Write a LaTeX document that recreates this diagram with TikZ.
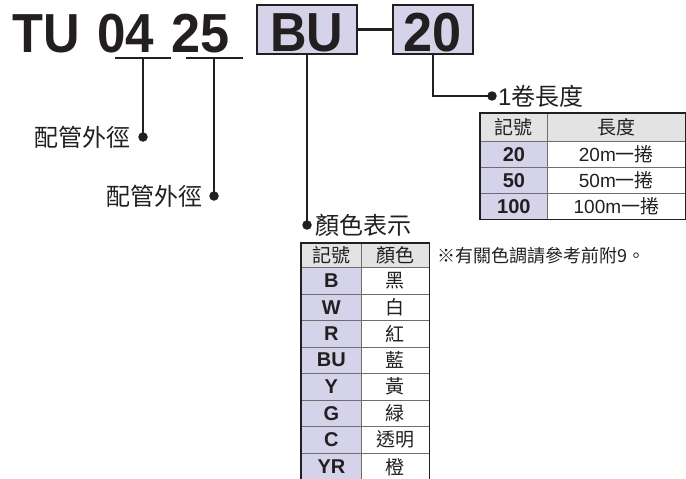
\documentclass[tikz,border=0pt]{standalone}
\usepackage{fontspec}
\usepackage{graphicx}
\setmainfont{Liberation Sans}
\newfontfamily\cjk{Noto Sans CJK TC}
\definecolor{lav}{HTML}{D5D3EA}
\definecolor{hdr}{HTML}{E3E3E3}
\definecolor{ink}{HTML}{231F20}
\definecolor{grid}{HTML}{6E6E6E}
\begin{document}
\begin{tikzpicture}[x=1pt,y=-1pt,
  big/.style={font=\fontsize{55}{55}\selectfont\bfseries, text=ink, inner sep=0},
  codebox/.style={draw=ink, line width=2pt, fill=lav, minimum height=49pt, inner sep=0},
  conn/.style={draw=ink, line width=1.6pt},
  dot/.style={circle, fill=ink, inner sep=0, minimum size=9.5pt},
  lbl/.style={font=\cjk\fontsize{24}{24}\selectfont, text=ink, inner sep=0},
  cell/.style={draw=grid, line width=0.8pt, inner sep=0, anchor=north west, text=ink, font=\fontsize{19}{19}\selectfont},
  hcell/.style={cell, fill=hdr, font=\cjk\fontsize{19}{19}\selectfont},
  kcell/.style={cell, fill=lav, font=\fontsize{20}{20}\selectfont\bfseries},
  vcell/.style={cell, fill=white},
  ccell/.style={cell, fill=white, font=\cjk\fontsize{19}{19}\selectfont},
  frame/.style={draw=ink, line width=1.3pt}
]
\useasboundingbox (0,0) rectangle (686,479);
\clip (0,0) rectangle (686,479);
% title
\node[big, anchor=base west] (tu) at (12,52) {\scalebox{0.92}[1]{TU}};
\node[big, anchor=base west] (n04) at (97,52) {\scalebox{0.93}[1]{04}};
\node[big, anchor=base west] (n25) at (171,52) {\scalebox{0.95}[1]{25}};
\node[codebox, minimum width=100pt] (bu) at (307,29.5) {};
\node[big, anchor=base] (bulbl) at (307,51) {\scalebox{0.92}[1]{BU}};
\node[codebox, minimum width=80pt] (n20) at (433,29.5) {};
\node[big, anchor=base] (n20lbl) at (433,51) {\scalebox{0.95}[1]{20}};
\draw[conn, line width=2.6pt] (bu.east) -- (n20.west);
% underlines
\coordinate (u04a) at (115,58); \coordinate (u04b) at (171,58);
\coordinate (u25a) at (186,58); \coordinate (u25b) at (243,58);
\draw[conn] (u04a) -- (u04b);
\draw[conn] (u25a) -- (u25b);
% leaders
\node[dot] (d04) at (143,137) {};
\node[dot] (d25) at (214,196) {};
\node[dot] (dbu) at (307,225) {};
\node[dot] (d20) at (492,96) {};
\draw[conn] (d04.center) -- (d04.center |- u04a);
\draw[conn] (d25.center) -- (d25.center |- u25a);
\draw[conn] (bu.south) -- (dbu.center);
\draw[conn] (n20.south) |- (d20.center);
\node[lbl, anchor=east] (l04) at (131,137) {配管外徑};
\node[lbl, anchor=east] (l25) at (203,196) {配管外徑};
\node[lbl, anchor=west] (lbu) at (315,225) {顏色表示};
\node[lbl, anchor=west] (l20) at (498,96) {{\fontspec{Liberation Sans}1}卷長度};
% table 1
\node[hcell, minimum width=67pt, minimum height=28pt] (t1h1) at (480,113) {記號};
\node[hcell, minimum width=138pt, minimum height=28pt] (t1h2) at (547,113) {長度};
\foreach \k [count=\i] in {20,50,100} {
  \node[kcell, minimum width=67pt, minimum height=26pt] (t1k\i) at (480,{141+26*(\i-1)}) {\k};
  \node[vcell, minimum width=138pt, minimum height=26pt] (t1v\i) at (547,{141+26*(\i-1)}) {\k m{\cjk 一捲}};
}
\draw[frame] (t1h1.north west) rectangle (t1v3.south east);
% table 2
\node[hcell, minimum width=60pt, minimum height=24pt] (t2h1) at (301,243) {記號};
\node[hcell, minimum width=68pt, minimum height=24pt] (t2h2) at (361,243) {顏色};
\foreach \k/\v [count=\i] in {B/黑,W/白,R/紅,BU/藍,Y/黃,G/緑,C/透明} {
  \node[kcell, minimum width=60pt, minimum height=26.5pt] (t2k\i) at (301,{267+26.5*(\i-1)}) {\k};
  \node[ccell, minimum width=68pt, minimum height=26.5pt] (t2v\i) at (361,{267+26.5*(\i-1)}) {\v};
}
\node[kcell, minimum width=60pt, minimum height=28pt] (t2k8) at (301,452.5) {YR};
\node[ccell, minimum width=68pt, minimum height=28pt] (t2v8) at (361,452.5) {橙};
\draw[frame] (t2h1.north west) rectangle (t2v8.south east);
\node[font=\cjk\fontsize{18}{18}\selectfont, text=ink, inner sep=0, anchor=west] (note) at (437,256) {※有關色調請參考前附9。};
\end{tikzpicture}
\end{document}
